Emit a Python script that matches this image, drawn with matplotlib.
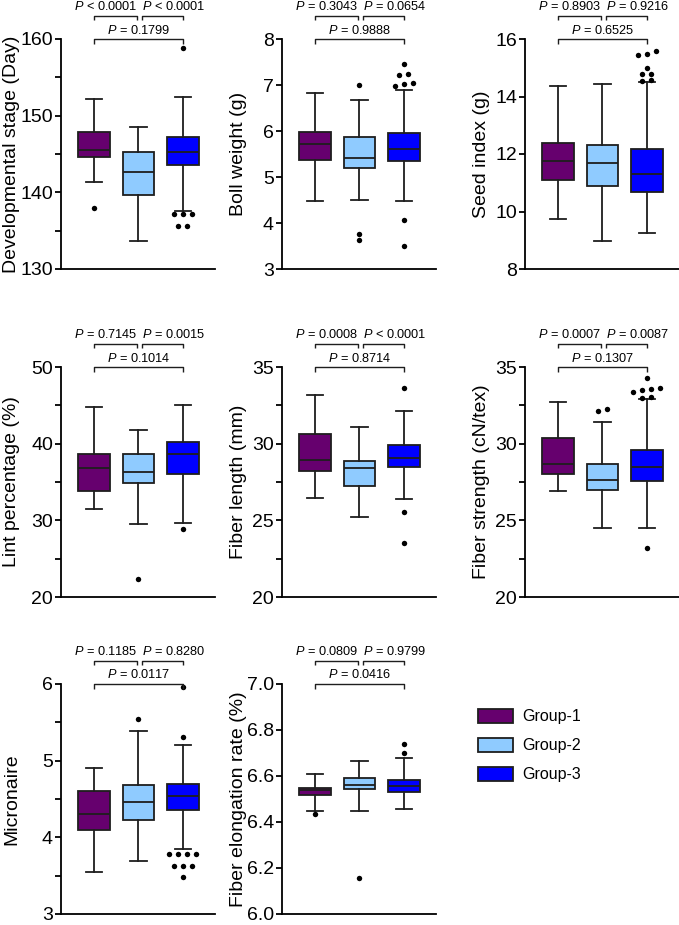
import matplotlib
matplotlib.use("Agg")
import matplotlib.pyplot as plt
import matplotlib.transforms as mtransforms
from matplotlib.patches import Patch
from matplotlib.ticker import MultipleLocator

plt.rcParams['font.family'] = ['Liberation Sans', 'DejaVu Sans']
plt.rcParams['mathtext.fontset'] = 'custom'
plt.rcParams['mathtext.rm'] = 'Liberation Sans'
plt.rcParams['mathtext.it'] = 'Liberation Sans:italic'

groups = ['Group-1', 'Group-2', 'Group-3']
colors = ['#66006e', '#8fcbff', '#0000ff']

traits = ['Developmental stage (Day)', 'Boll weight (g)', 'Seed index (g)',
          'Lint percentage (%)', 'Fiber length (mm)', 'Fiber strength (cN/tex)',
          'Micronaire', 'Fiber elongation rate (%)']

# box summaries, one row per trait, columns Group-1..3
whis_hi = [[152.2, 148.5, 152.4], [6.82, 6.68, 6.89], [14.35, 14.44, 14.50],
           [44.8, 41.8, 45.1], [33.2, 31.1, 32.1], [32.7, 31.4, 32.9],
           [4.90, 5.39, 5.21], [6.61, 6.667, 6.677]]
q3 = [[147.9, 145.3, 147.2], [5.98, 5.86, 5.95], [12.40, 12.32, 12.18],
      [38.65, 38.65, 40.2], [30.6, 28.9, 29.9], [30.4, 28.7, 29.6],
      [4.61, 4.68, 4.69], [6.55, 6.593, 6.581]]
median = [[145.5, 142.7, 145.3], [5.71, 5.42, 5.61], [11.77, 11.69, 11.30],
          [36.8, 36.3, 38.6], [28.95, 28.4, 29.05], [28.7, 27.6, 28.5],
          [4.31, 4.46, 4.54], [6.54, 6.56, 6.555]]
q1 = [[144.6, 139.7, 143.6], [5.37, 5.19, 5.34], [11.10, 10.88, 10.69],
      [33.8, 34.9, 36.0], [28.2, 27.25, 28.45], [28.05, 27.0, 27.55],
      [4.09, 4.23, 4.36], [6.516, 6.542, 6.532]]
whis_lo = [[141.4, 133.7, 137.6], [4.48, 4.49, 4.48], [9.74, 8.96, 9.26],
           [31.5, 29.5, 29.7], [26.45, 25.2, 26.4], [26.9, 24.5, 24.5],
           [3.55, 3.69, 3.85], [6.448, 6.448, 6.457]]
outliers = [
    [[137.9], [], [158.8, 137.2, 137.2, 137.2, 135.6, 135.6]],
    [[], [7.0, 3.77, 3.64], [7.45, 7.25, 7.22, 7.05, 7.03, 6.97, 4.07, 3.49]],
    [[], [], [15.57, 15.49, 15.44, 14.99, 14.80, 14.78, 14.56, 14.55]],
    [[], [22.35], [28.9]],
    [[], [], [33.65, 25.52, 23.55]],
    [[], [32.23, 32.12], [34.3, 33.6, 33.55, 33.5, 33.4, 33.05, 33.0, 23.2]],
    [[], [5.55], [5.96, 5.31, 3.78, 3.78, 3.78, 3.78, 3.62, 3.62, 3.62, 3.48]],
    [[6.436], [6.157], [6.738, 6.699]],
]

p_12 = ['< 0.0001', '= 0.3043', '= 0.8903', '= 0.7145', '= 0.0008', '= 0.0007', '= 0.1185', '= 0.0809']
p_23 = ['< 0.0001', '= 0.0654', '= 0.9216', '= 0.0015', '< 0.0001', '= 0.0087', '= 0.8280', '= 0.9799']
p_13 = ['= 0.1799', '= 0.9888', '= 0.6525', '= 0.1014', '= 0.8714', '= 0.1307', '= 0.0117', '= 0.0416']

y_min = [130, 3, 8, 20, 20, 20, 3, 6.0]
y_max = [160, 8, 16, 50, 35, 35, 6, 7.0]
y_major = [10, 1, 2, 10, 5, 5, 1, 0.2]
y_minor = [5, None, None, 5, 2.5, 2.5, 0.5, None]

W, H = 679, 925
col_left = [61, 282, 525]
row_top = [39, 367, 684]
ax_w, ax_h = 154, 230
xlo, xhi = 0.258, 3.72
px_per_x = ax_w / (xhi - xlo)
edge = '#1e1e1e'
lw = 1.3


def swarm(vals, px_per_y):
    # spread outliers that sit at about the same height side by side
    clusters = []
    for v in sorted(vals):
        if clusters and (v - clusters[-1][-1]) * px_per_y < 4.5:
            clusters[-1].append(v)
        else:
            clusters.append([v])
    xs, ys = [], []
    for cl in clusters:
        n = len(cl)
        for k, v in enumerate(cl):
            xs.append((k - (n - 1) / 2) * 9 / px_per_x)
            ys.append(v)
    return xs, ys


def bracket(ax, x0, x1, up_px, drop_px, text, tx, ha):
    tr = mtransforms.blended_transform_factory(ax.transData, ax.transAxes)
    y = 1 + up_px / ax_h
    yd = y - drop_px / ax_h
    ax.plot([x0, x0, x1, x1], [yd, y, y, yd], transform=tr, color=edge,
            lw=1.0, clip_on=False, solid_capstyle='butt')
    ax.text(tx, y + 5.5 / ax_h, r'$P$ ' + text, transform=tr, ha=ha,
            va='baseline', fontsize=9.2)


fig = plt.figure(figsize=(W / 100, H / 100), dpi=100)

for i, name in enumerate(traits):
    r, c = divmod(i, 3)
    ax = fig.add_axes([col_left[c] / W, 1 - (row_top[r] + ax_h) / H, ax_w / W, ax_h / H])
    stats = [dict(med=median[i][g], q1=q1[i][g], q3=q3[i][g],
                  whislo=whis_lo[i][g], whishi=whis_hi[i][g], fliers=[])
             for g in range(3)]
    bp = ax.bxp(stats, positions=[1, 2, 3], widths=0.7, capwidths=0.38,
                patch_artist=True, showfliers=False,
                boxprops=dict(edgecolor=edge, linewidth=lw),
                medianprops=dict(color=edge, linewidth=lw),
                whiskerprops=dict(color=edge, linewidth=lw),
                capprops=dict(color=edge, linewidth=lw))
    for patch, col in zip(bp['boxes'], colors):
        patch.set_facecolor(col)

    px_per_y = ax_h / (y_max[i] - y_min[i])
    for g in range(3):
        if outliers[i][g]:
            xs, ys = swarm(outliers[i][g], px_per_y)
            ax.plot([g + 1 + x for x in xs], ys, 'o', color='black', ms=3.9,
                    mew=0, clip_on=False)

    ax.set_xlim(xlo, xhi)
    ax.set_ylim(y_min[i], y_max[i])
    ax.set_xticks([])
    ax.yaxis.set_major_locator(MultipleLocator(y_major[i]))
    if y_minor[i]:
        ax.yaxis.set_minor_locator(MultipleLocator(y_minor[i]))
    ax.tick_params(axis='y', which='both', length=4.3, width=lw, labelsize=14, pad=1.5)
    for s in ['top', 'right']:
        ax.spines[s].set_visible(False)
    for s in ['left', 'bottom']:
        ax.spines[s].set_linewidth(lw)
    ax.set_ylabel(name, fontsize=14)
    ax.yaxis.set_label_coords((-41 if c == 0 else -35) / ax_w, 0.5)

    gap_l, gap_r = 1 / px_per_x, 4 / px_per_x
    bracket(ax, 1, 2 - gap_l, 23.3, 4.3, p_12[i], 2 - gap_l, 'right')
    bracket(ax, 2 + gap_r, 3, 23.3, 4.3, p_23[i], 2 + gap_r, 'left')
    bracket(ax, 1, 3, 0, 5, p_13[i], 2, 'center')

handles = [Patch(facecolor=col, edgecolor=edge, linewidth=lw) for col in colors]
fig.legend(handles, groups, loc='upper left', bbox_to_anchor=(478 / W, 1 - 709 / H),
           frameon=False, fontsize=11.5, handlelength=2.2, handleheight=0.95,
           labelspacing=0.85, handletextpad=0.55, borderpad=0, borderaxespad=0)

fig.savefig('out.png', dpi=100)
